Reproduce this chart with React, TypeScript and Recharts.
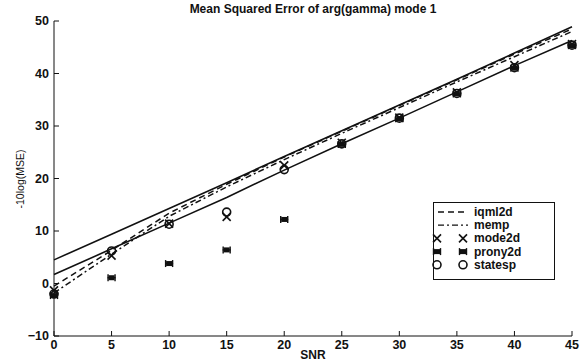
import React from 'react';
import { ComposedChart, Line, XAxis, YAxis } from 'recharts';

// SNR grid and -10log(MSE) values
const snr = [0, 5, 10, 15, 20, 25, 30, 35, 40, 45];
const boundUpper = [4.5, 9.4, 14.3, 19.2, 24.2, 29.1, 34.0, 38.9, 43.9, 48.9];
const boundLower = [1.7, 6.6, 11.5, 16.4, 21.6, 26.6, 31.5, 36.5, 41.5, 46.3];
const iqml2d = [-0.5, 6.3, 13.4, 18.9, 24.1, 29.0, 33.9, 38.8, 43.7, 48.5];
const memp = [-1.8, 5.6, 12.8, 18.4, 23.6, 28.6, 33.5, 38.4, 43.2, 48.0];
const mode2d = [-1.3, 5.3, 11.4, 12.7, 22.5, 26.8, 31.6, 36.4, 41.6, 45.6];
const prony2d = [-2.3, 1.1, 3.8, 6.4, 12.2, 26.5, 31.4, 36.1, 41.0, 45.3];
const statesp = [-2.0, 6.2, 11.3, 13.6, 21.7, 26.6, 31.5, 36.2, 41.1, 45.4];

const xTicks = [0, 5, 10, 15, 20, 25, 30, 35, 40, 45];
const yTicks = [-10, 0, 10, 20, 30, 40, 50];

const data = snr.map((s, i) => ({
	snr: s,
	boundUpper: boundUpper[i],
	boundLower: boundLower[i],
	iqml2d: iqml2d[i],
	memp: memp[i],
	mode2d: mode2d[i],
	prony2d: prony2d[i],
	statesp: statesp[i]
}));

const FONT = '"Liberation Sans", Arial, sans-serif';
const INK = '#111';

const XMark = ({ cx, cy }: { cx: number; cy: number }) => (
	<g>
		<line x1={cx - 4} y1={cy - 4} x2={cx + 4} y2={cy + 4} stroke={INK} strokeWidth={1.6} />
		<line x1={cx - 4} y1={cy + 4} x2={cx + 4} y2={cy - 4} stroke={INK} strokeWidth={1.6} />
	</g>
);

const StarMark = ({ cx, cy }: { cx: number; cy: number }) => (
	<g>
		<rect x={cx - 3} y={cy - 2.5} width={6} height={5} fill={INK} />
		<line x1={cx - 4} y1={cy} x2={cx + 4} y2={cy} stroke={INK} strokeWidth={1.4} />
		<line x1={cx - 3.5} y1={cy - 3.5} x2={cx - 3.5} y2={cy + 3.5} stroke={INK} strokeWidth={1.4} />
		<line x1={cx + 3.5} y1={cy - 3.5} x2={cx + 3.5} y2={cy + 3.5} stroke={INK} strokeWidth={1.4} />
	</g>
);

const CircleMark = ({ cx, cy }: { cx: number; cy: number }) => (
	<circle cx={cx} cy={cy} r={4} fill='none' stroke={INK} strokeWidth={1.6} />
);

const markerDot = (Comp: React.FC<{ cx: number; cy: number }>, name: string) => (p: any) => (
	<Comp key={`${name}-${p.index}`} cx={p.cx} cy={p.cy} />
);

const XTick = (p: any) => (
	<g>
		<line x1={p.x} x2={p.x} y1={p.y} y2={p.y - 5} stroke={INK} />
		<text x={p.x} y={p.y + 13} textAnchor='middle' fontFamily={FONT} fontWeight='bold' fontSize={12.5} fill={INK}>
			{p.payload.value}
		</text>
	</g>
);

const YTick = (p: any) => (
	<g>
		<line x1={p.x} x2={p.x + 5} y1={p.y} y2={p.y} stroke={INK} />
		<text x={p.x - 5} y={p.y + 4} textAnchor='end' fontFamily={FONT} fontWeight='bold' fontSize={12.5} fill={INK}>
			{p.payload.value === -10 ? '\u221210' : p.payload.value}
		</text>
	</g>
);

const legendRows = [
	{ name: 'iqml2d', kind: 'dash' },
	{ name: 'memp', kind: 'dashdot' },
	{ name: 'mode2d', kind: 'x' },
	{ name: 'prony2d', kind: 'star' },
	{ name: 'statesp', kind: 'circle' }
];

const Legend = () => (
	<svg style={{ position: 'absolute', left: 0, top: 0 }} width={583} height={364}>
		<rect x={433.5} y={202.5} width={121} height={77} fill='#fff' stroke={INK} strokeWidth={1} />
		{legendRows.map((r, i) => {
			const y = 212 + i * 13.2;
			return (
				<g key={r.name}>
					{r.kind === 'dash' && <line x1={438} x2={468} y1={y} y2={y} stroke={INK} strokeWidth={1.3} strokeDasharray='6 4' />}
					{r.kind === 'dashdot' && <line x1={438} x2={468} y1={y} y2={y} stroke={INK} strokeWidth={1.3} strokeDasharray='6 3 2 3' />}
					{r.kind === 'x' && (
						<>
							<XMark cx={437} cy={y} />
							<XMark cx={463} cy={y} />
						</>
					)}
					{r.kind === 'star' && (
						<>
							<StarMark cx={437} cy={y} />
							<StarMark cx={463} cy={y} />
						</>
					)}
					{r.kind === 'circle' && (
						<>
							<CircleMark cx={437} cy={y} />
							<CircleMark cx={463} cy={y} />
						</>
					)}
					<text x={474} y={y + 4} fontFamily={FONT} fontWeight='bold' fontSize={12} fill={INK}>
						{r.name}
					</text>
				</g>
			);
		})}
	</svg>
);

export default function App() {
	return (
		<div style={{ position: 'absolute', left: 0, top: 0, width: 583, height: 364, background: '#fff' }}>
			<ComposedChart width={583} height={364} data={data} margin={{ top: 21, right: 11, left: 0, bottom: 0 }}>
				<XAxis
					dataKey='snr'
					type='number'
					domain={[0, 45]}
					ticks={xTicks}
					height={28}
					tickSize={0}
					tickMargin={0}
					tick={XTick}
					axisLine={{ stroke: INK }}
					tickLine={false}
				/>
				<YAxis
					type='number'
					domain={[-10, 50]}
					ticks={yTicks}
					width={54}
					tickSize={0}
					tickMargin={0}
					tick={YTick}
					axisLine={{ stroke: INK }}
					tickLine={false}
				/>
				<Line dataKey='boundUpper' stroke={INK} strokeWidth={1.6} dot={false} activeDot={false} isAnimationActive={false} />
				<Line dataKey='boundLower' stroke={INK} strokeWidth={1.6} dot={false} activeDot={false} isAnimationActive={false} />
				<Line dataKey='iqml2d' stroke={INK} strokeWidth={1.5} strokeDasharray='6 4' dot={false} activeDot={false} isAnimationActive={false} />
				<Line dataKey='memp' stroke={INK} strokeWidth={1.5} strokeDasharray='6 3 2 3' dot={false} activeDot={false} isAnimationActive={false} />
				<Line dataKey='mode2d' stroke='none' dot={markerDot(XMark, 'mode2d')} activeDot={false} isAnimationActive={false} />
				<Line dataKey='prony2d' stroke='none' dot={markerDot(StarMark, 'prony2d')} activeDot={false} isAnimationActive={false} />
				<Line dataKey='statesp' stroke='none' dot={markerDot(CircleMark, 'statesp')} activeDot={false} isAnimationActive={false} />
			</ComposedChart>
			<Legend />
			<div style={{ position: 'absolute', left: 54, width: 518, top: 2, textAlign: 'center', fontFamily: FONT, fontWeight: 'bold', fontSize: 12, color: INK }}>
				Mean Squared Error of arg(gamma) mode 1
			</div>
			<div style={{ position: 'absolute', left: 54, width: 518, top: 348, textAlign: 'center', fontFamily: FONT, fontWeight: 'bold', fontSize: 12, color: INK }}>
				SNR
			</div>
			<div
				style={{
					position: 'absolute',
					left: 20,
					top: 179,
					transform: 'translate(-50%, -50%) rotate(-90deg)',
					whiteSpace: 'nowrap',
					fontFamily: FONT,
					fontSize: 10.5,
					color: INK
				}}
			>
				-10log(MSE)
			</div>
		</div>
	);
}
